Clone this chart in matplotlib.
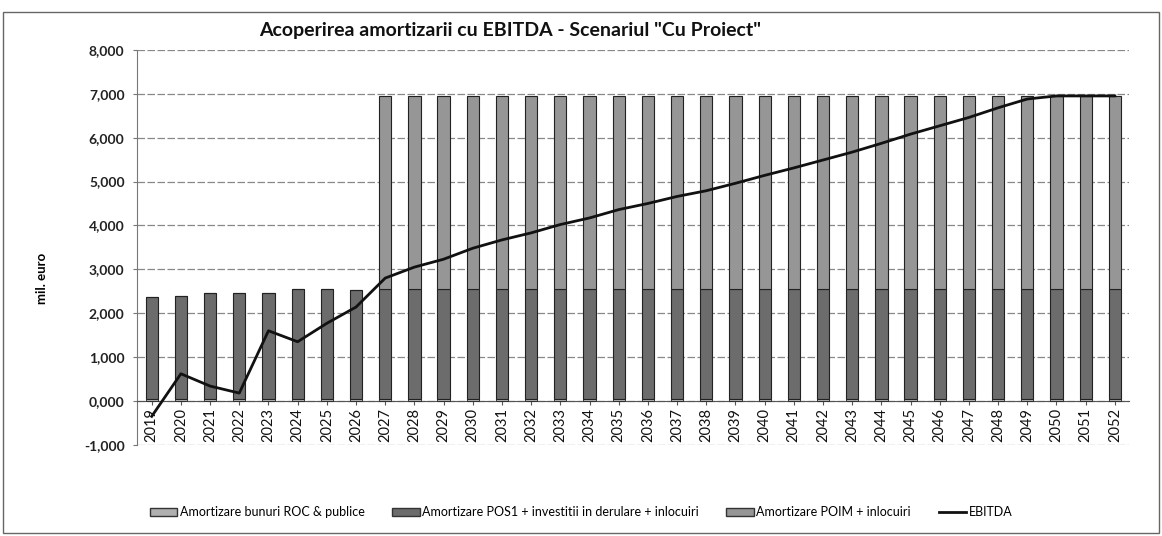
import matplotlib
matplotlib.use("Agg")
import matplotlib.pyplot as plt
from matplotlib.patches import Rectangle
from matplotlib.lines import Line2D
import numpy as np

years = [str(y) for y in range(2019, 2053)]

# values in mil. euro
roc = [0.04] * 34
pos1 = [2.32, 2.35, 2.42, 2.41, 2.42, 2.52, 2.51, 2.50] + [2.51] * 26
poim = [0.0] * 8 + [4.40] * 26
ebitda = [-0.35, 0.62, 0.34, 0.18, 1.60, 1.35, 1.77, 2.14,
          2.80, 3.05, 3.23, 3.48, 3.67, 3.83, 4.02, 4.17, 4.36, 4.50,
          4.66, 4.79, 4.96, 5.14, 5.31, 5.49, 5.67, 5.87, 6.08, 6.27,
          6.46, 6.68, 6.88, 6.95, 6.95, 6.95]

yticks = [-1, 0, 1, 2, 3, 4, 5, 6, 7, 8]
ytick_labels = ["-1,000", "0,000", "1,000", "2,000", "3,000", "4,000",
                "5,000", "6,000", "7,000", "8,000"]

title = 'Acoperirea amortizarii cu EBITDA - Scenariul "Cu Proiect"'
ylabel = "mil. euro"
legend_labels = ["Amortizare bunuri ROC & publice",
                 "Amortizare POS1 + investitii in derulare + inlocuiri",
                 "Amortizare POIM + inlocuiri",
                 "EBITDA"]

plt.rcParams['font.family'] = ['Lato', 'DejaVu Sans']

fig = plt.figure(figsize=(11.62, 5.36), dpi=100)
ax = fig.add_axes([0.118, 0.170, 0.854, 0.737])

x = np.arange(len(years))
w = 0.42
c_roc, c_pos1, c_poim = "#b0b0b0", "#6c6c6c", "#969696"
roc_a = np.array(roc)
pos1_a = np.array(pos1)
poim_a = np.array(poim)
ax.bar(x, roc_a, w, color=c_roc, edgecolor="#222222", linewidth=0.6, zorder=3)
ax.bar(x, pos1_a, w, bottom=roc_a, color=c_pos1, edgecolor="#222222", linewidth=0.8, zorder=3)
ax.bar(x, poim_a, w, bottom=roc_a + pos1_a, color=c_poim, edgecolor="#222222", linewidth=0.8, zorder=3)
ax.plot(x, ebitda, color="#111111", linewidth=2.0, zorder=4)

ax.set_xlim(-0.5, len(years) - 0.5)
ax.set_ylim(-1, 8)
ax.set_yticks(yticks)
ax.set_yticklabels(ytick_labels, fontsize=10, fontweight="bold", color="#222222")
ax.yaxis.grid(True, linestyle=(0, (6, 2)), color="#888888", linewidth=0.9, zorder=0)
ax.set_axisbelow(True)

ax.spines['top'].set_visible(False)
ax.spines['right'].set_visible(False)
ax.spines['bottom'].set_position(('data', 0))
ax.spines['bottom'].set_color("#555555")
ax.spines['left'].set_color("#777777")
ax.set_xticks(x)
ax.set_xticklabels(years, rotation=90, fontsize=10.5, color="#111111")
ax.tick_params(axis='x', length=3, pad=2, colors="#555555", labelcolor="#111111")
ax.tick_params(axis='y', length=3, pad=6, colors="#777777", labelcolor="#222222")

fig.text(0.439, 0.944, title, ha="center", va="center", fontsize=14, fontweight="bold", color="#111111")
fig.text(0.036, 0.48, ylabel, ha="center", va="center", rotation=90, fontsize=9.5, fontweight="bold")

handles = [Rectangle((0, 0), 1, 1, facecolor=c_roc, edgecolor="#333333"),
           Rectangle((0, 0), 1, 1, facecolor=c_pos1, edgecolor="#333333"),
           Rectangle((0, 0), 1, 1, facecolor=c_poim, edgecolor="#333333"),
           Line2D([0], [0], color="#111111", linewidth=2)]
fig.legend(handles, legend_labels, loc="center", bbox_to_anchor=(0.50, 0.044), ncol=4,
           frameon=False, fontsize=9, handlelength=2.2, handleheight=0.7,
           handletextpad=0.2, columnspacing=2.2)

# outer chart border
fig.patches.append(Rectangle((0.003, 0.005), 0.994, 0.972, transform=fig.transFigure,
                             fill=False, edgecolor="#666666", linewidth=1.0))

fig.savefig("out.png", dpi=100, facecolor="white")
